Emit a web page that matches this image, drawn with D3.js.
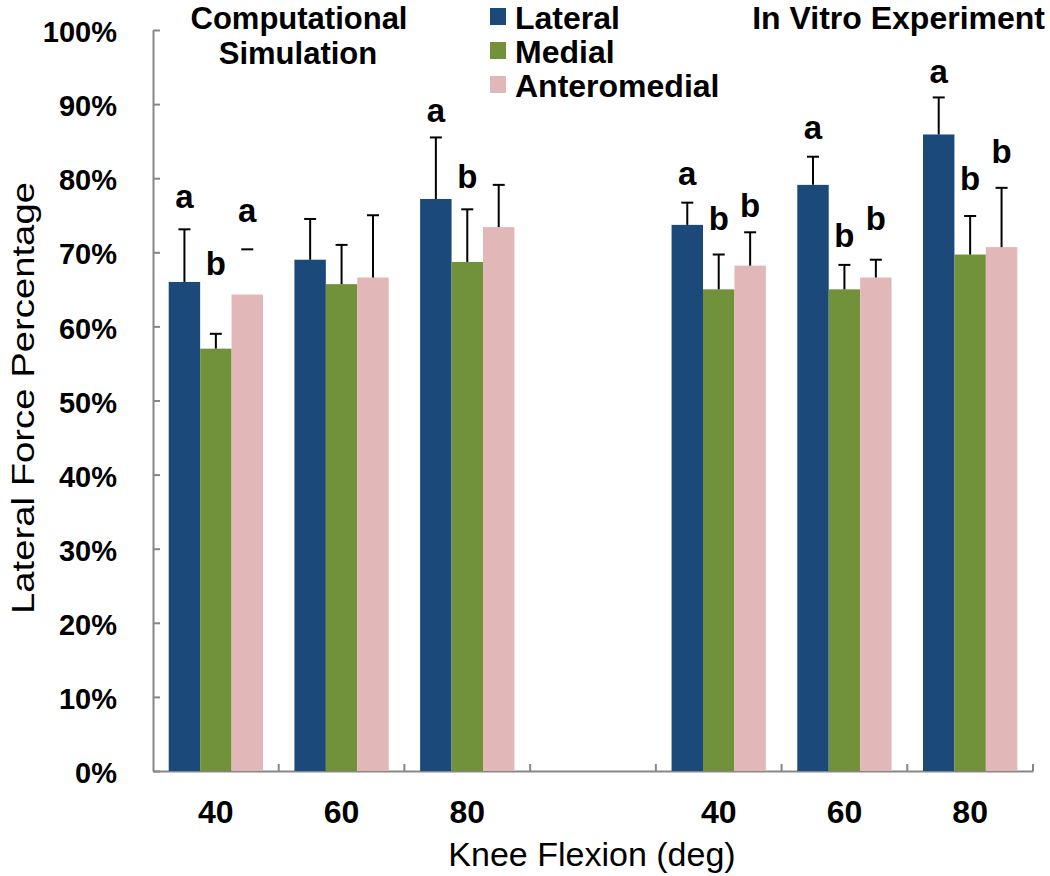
<!DOCTYPE html>
<html>
<head>
<meta charset="utf-8">
<script src="https://cdn.jsdelivr.net/npm/d3@7"></script>
<style>
  body { margin: 0; background: #fff; }
  svg { font-family: "Liberation Sans", Arial, sans-serif; }
</style>
</head>
<body>
<svg id="chart"></svg>
<script>
// data
var categories = ["c40", "c60", "c80", "gap", "v40", "v60", "v80"]
var tickLabels = ["40", "60", "80", "", "40", "60", "80"]
var series = ["Lateral", "Medial", "Anteromedial"]

// mean lateral force (%)
var lateral = [66.0, 69.0, 77.2, null, 73.7, 79.1, 85.9]
var medial = [57.0, 65.7, 68.7, null, 65.0, 65.0, 69.7]
var anteromedial = [64.3, 66.6, 73.4, null, 68.2, 66.6, 70.7]

// upper error (SD, %)
var lateralErr = [7.1, 5.5, 8.3, null, 3.0, 3.8, 5.0]
var medialErr = [2.0, 5.3, 7.1, null, 4.7, 3.3, 5.2]
var anteromedialErr = [6.1, 8.4, 5.7, null, 4.5, 2.4, 8.0]

// significance letters: [series, category, letter, level %]
var letters = [
  ["Lateral", "c40", "a", 76.0],
  ["Medial", "c40", "b", 66.9],
  ["Anteromedial", "c40", "a", 74.1],
  ["Lateral", "c80", "a", 87.6],
  ["Medial", "c80", "b", 78.7],
  ["Lateral", "v40", "a", 79.1],
  ["Medial", "v40", "b", 73.0],
  ["Anteromedial", "v40", "b", 74.8],
  ["Lateral", "v60", "a", 85.3],
  ["Medial", "v60", "b", 70.7],
  ["Anteromedial", "v60", "b", 73.0],
  ["Lateral", "v80", "a", 92.8],
  ["Medial", "v80", "b", 78.4],
  ["Anteromedial", "v80", "b", 82.1]
]

var yTicks = [0, 10, 20, 30, 40, 50, 60, 70, 80, 90, 100]

var values = { Lateral: lateral, Medial: medial, Anteromedial: anteromedial }
var errors = { Lateral: lateralErr, Medial: medialErr, Anteromedial: anteromedialErr }
var colors = d3.scaleOrdinal()
  .domain(series)
  .range(["#1b4a7a", "#71913a", "#e2b7b7"])

var width = 1050,
  height = 876

var svg = d3.select("#chart")
  .attr("width", width)
  .attr("height", height)

var x0 = d3.scaleBand()
  .domain(categories)
  .range([153, 1033])
  .padding(0)

var x1 = d3.scaleBand()
  .domain(series)
  .range([0, x0.bandwidth()])
  .paddingInner(0)
  .paddingOuter(0.5)

var y = d3.scaleLinear()
  .domain([0, 100])
  .range([771, 30])

var axisColor = "#878787"

/*
 * Axes
 */

var yAxis = svg.append("g")
  .attr("transform", "translate(153,0)")
  .call(d3.axisLeft(y)
    .tickValues(yTicks)
    .tickSizeInner(-7)
    .tickSizeOuter(0)
    .tickPadding(36)
    .tickFormat(function (d) {
      return d + "%"
    }))

yAxis.selectAll("path, line")
  .style("stroke", axisColor)
  .style("stroke-width", 2)
yAxis.selectAll("text")
  .style("font-family", "'Liberation Sans', Arial, sans-serif")
  .style("font-size", "29px")
  .style("font-weight", "bold")
  .style("fill", "#000")
  .attr("dy", "0.4em")

var xAxis = svg.append("g")
  .attr("transform", "translate(0,771)")
  .call(d3.axisBottom(x0)
    .tickSize(0)
    .tickPadding(29)
    .tickFormat(function (d, i) {
      return tickLabels[i]
    }))

xAxis.select("path")
  .style("stroke", axisColor)
  .style("stroke-width", 2)
xAxis.selectAll("text")
  .style("font-family", "'Liberation Sans', Arial, sans-serif")
  .style("font-size", "32px")
  .style("font-weight", "bold")
  .style("fill", "#000")

// category boundary ticks
xAxis.selectAll("line.bound")
  .data(categories)
  .enter()
  .append("line")
  .attr("class", "bound")
  .attr("x1", function (d) {
    return x0(d) + x0.bandwidth()
  })
  .attr("x2", function (d) {
    return x0(d) + x0.bandwidth()
  })
  .attr("y1", 0)
  .attr("y2", -7)
  .style("stroke", axisColor)
  .style("stroke-width", 2)

/*
 * Bars
 */

var rows = []
series.forEach(function (s) {
  categories.forEach(function (c, i) {
    if (values[s][i] != null) {
      rows.push({ s: s, c: c, v: values[s][i], e: errors[s][i] })
    }
  })
})

svg.append("g")
  .selectAll("rect.bar")
  .data(rows)
  .enter()
  .append("rect")
  .attr("class", "bar")
  .attr("x", function (d) {
    return x0(d.c) + x1(d.s)
  })
  .attr("y", function (d) {
    return y(d.v)
  })
  .attr("width", x1.bandwidth())
  .attr("height", function (d) {
    return y(0) - y(d.v)
  })
  .style("fill", function (d) {
    return colors(d.s)
  })

// error bars (the stem of the first anteromedial bar is not shown in the source)
var err = svg.append("g")
  .selectAll("g.err")
  .data(rows)
  .enter()
  .append("g")
  .attr("class", "err")
  .attr("transform", function (d) {
    return "translate(" + (x0(d.c) + x1(d.s) + x1.bandwidth() / 2) + ",0)"
  })

err.filter(function (d) {
    return !(d.s === "Anteromedial" && d.c === "c40")
  })
  .append("line")
  .attr("y1", function (d) {
    return y(d.v)
  })
  .attr("y2", function (d) {
    return y(d.v + d.e)
  })
  .style("stroke", "#000")
  .style("stroke-width", 2)

err.append("line")
  .attr("x1", -6)
  .attr("x2", 6)
  .attr("y1", function (d) {
    return y(d.v + d.e)
  })
  .attr("y2", function (d) {
    return y(d.v + d.e)
  })
  .style("stroke", "#000")
  .style("stroke-width", 2)

// significance letters
svg.append("g")
  .selectAll("text")
  .data(letters)
  .enter()
  .append("text")
  .attr("x", function (d) {
    return x0(d[1]) + x1(d[0]) + x1.bandwidth() / 2
  })
  .attr("y", function (d) {
    return y(d[3])
  })
  .attr("text-anchor", "middle")
  .style("font-size", "33px")
  .style("font-weight", "bold")
  .text(function (d) {
    return d[2]
  })

/*
 * Titles
 */

svg.append("text")
  .attr("x", 299)
  .attr("y", 29)
  .attr("text-anchor", "middle")
  .style("font-size", "31px")
  .style("font-weight", "bold")
  .text("Computational")

svg.append("text")
  .attr("x", 298)
  .attr("y", 64)
  .attr("text-anchor", "middle")
  .style("font-size", "31px")
  .style("font-weight", "bold")
  .text("Simulation")

svg.append("text")
  .attr("x", 1045)
  .attr("y", 29)
  .attr("text-anchor", "end")
  .style("font-size", "32px")
  .style("font-weight", "bold")
  .text("In Vitro Experiment")

svg.append("text")
  .attr("transform", "translate(34,398) rotate(-90)")
  .attr("text-anchor", "middle")
  .attr("textLength", 432)
  .attr("lengthAdjust", "spacingAndGlyphs")
  .style("font-size", "31px")
  .text("Lateral Force Percentage")

svg.append("text")
  .attr("x", 592)
  .attr("y", 866)
  .attr("text-anchor", "middle")
  .style("font-size", "34px")
  .text("Knee Flexion (deg)")

/*
 * Legend
 */

var legend = svg.append("g")
  .selectAll("g.legend")
  .data(series)
  .enter()
  .append("g")
  .attr("class", "legend")
  .attr("transform", function (d, i) {
    return "translate(490," + (4 + i * 34) + ")"
  })

legend.append("rect")
  .attr("x", 0)
  .attr("y", 4)
  .attr("width", 16)
  .attr("height", 17)
  .style("fill", function (d) {
    return colors(d)
  })

legend.append("text")
  .attr("x", 25)
  .attr("y", 25)
  .style("font-size", "32px")
  .style("font-weight", "bold")
  .text(function (d) {
    return d
  })
</script>
</body>
</html>
